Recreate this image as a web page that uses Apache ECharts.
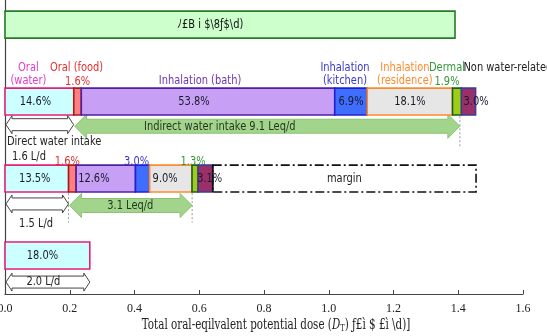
<!DOCTYPE html>
<html>
<head>
<meta charset="utf-8">
<script src="https://cdn.jsdelivr.net/npm/echarts@6/dist/echarts.min.js"></script>
<style>
html,body{margin:0;padding:0;background:#fff;}
#chart{width:547px;height:336px;}
</style>
</head>
<body>
<div id="chart"></div>
<script>
// x axis
var xMin = 0, xMax = 1.6, xStep = 0.2

// doses (Leq/d)
var totalDose = 1.455
var refDose = 1.39
var refText = 'ﾉ£B i $\\8ƒ$\\d)'

// share of total dose per route (%)
var partNames = ['Oral (water)', 'Oral (food)', 'Inhalation (bath)', 'Inhalation (kitchen)', 'Inhalation (residence)', 'Dermal', 'Non water-related']
var pctAll = [14.6, 1.6, 53.8, 6.9, 18.1, 1.9, 3.0]
var pctNow = [13.5, 1.6, 12.6, 3.0, 9.0, 1.3, 3.1]
var pctDirect = [18.0]

// arrows [from, to] in Leq/d
var directAll = [0, 0.212]
var indirectAll = [0.212, 1.405]
var directNow = [0, 0.196]
var indirectNow = [0.196, 0.578]
var directMax = [0, 0.262]
var arrowText = ['Indirect water intake 9.1 Leq/d', '3.1 Leq/d', '2.0 L/d']
var noteText = ['Direct water intake', '1.6 L/d', '1.5 L/d', 'margin']

// ---------- layout / style ----------
var yTop = 3.82
var rowRef = 3.5, rowAll = 2.5, rowNow = 1.5, rowDirect = 0.5
var barH = 0.35
var SX = 0.76   // narrow text like the original

var partFill = ['#ccffff', '#ff7f7f', '#c7a0f5', '#3f6dff', '#e6e6e6', '#9fcc14', '#9b3068']
var partLine = ['#e2207a', '#a81c1c', '#4f1f9e', '#2020d0', '#ff8a2a', '#1e5e1e', '#3c3c9a']
var partText = ['#e03cc6', '#dd3030', '#7036b0', '#3838c8', '#ff8a2a', '#34963a', '#222222']

// labels inside bars: [align, dx px]
var insideAll = [['c', -4], null, ['c', -14], ['c', 0], ['c', 0], null, ['l', 2]]
var insideNow = [['c', -2], null, ['l', 2], null, ['l', 3], null, ['l', -1]]
var insideDirect = [['c', -5]]
// percent labels above bars: dx px
var aboveAll = [null, 0, null, null, null, -10, null]
var aboveNow = [null, -5, null, -6, null, -2, null]
// two-line route names above the "all" row: [line1, line2, dx]
var heads = [['Oral', '(water)', -11], ['Oral (food)', '', -1], ['', 'Inhalation (bath)', -8],
  ['Inhalation', '(kitchen)', -6], ['Inhalation', '(residence)', -5], ['Dermal', '', -10], ['Non water-related', '', 'left']]

function txt(x, y, s, color, align, size, font){
  return {type: 'text', x: x, y: y, scaleX: SX, silent: true,
    style: {text: s, x: 0, y: 0, fill: color, align: align || 'center', verticalAlign: 'middle',
      font: (size || 13) + 'px ' + (font || '"DejaVu Sans"')}}
}

function dArrow(x0, x1, cy, sh, hh, hl, fill, stroke){
  return {type: 'polygon', silent: true, shape: {points: [[x0, cy], [x0 + hl, cy - hh], [x0 + hl, cy - sh], [x1 - hl, cy - sh],
    [x1 - hl, cy - hh], [x1, cy], [x1 - hl, cy + hh], [x1 - hl, cy + sh], [x0 + hl, cy + sh], [x0 + hl, cy + hh]]},
    style: {fill: fill, stroke: stroke, lineWidth: 1}}
}

// build bar segments: [x0, x1, y, part, row]   row 0 all, 1 now, 2 direct, 3 ref
var rowPct = [pctAll, pctNow, pctDirect]
var rowY = [rowAll, rowNow, rowDirect]
var segData = [[0, refDose, rowRef, 0, 3]]
for (var r = 0; r < 3; r++){
  var s = 0
  for (var i = 0; i < rowPct[r].length; i++){
    var w = rowPct[r][i] / 100 * totalDose
    segData.push([s, s + w, rowY[r], i, r])
    s += w
  }
}
var nowEnd = 0
for (var i = 0; i < pctNow.length; i++) nowEnd += pctNow[i] / 100 * totalDose

function renderBar(params, api){
  var x0 = api.value(0), x1 = api.value(1), y = api.value(2), part = api.value(3), row = api.value(4)
  var a = api.coord([x0, y]), b = api.coord([x1, y])
  var h = api.size([0, barH])[1]
  var cx = (a[0] + b[0]) / 2, cy = a[1]
  var kids = []
  if (row === 3){
    kids.push({type: 'rect', shape: {x: a[0], y: cy - h / 2, width: b[0] - a[0], height: h}, style: {fill: '#ccffcc', stroke: '#2a7a2a', lineWidth: 1.6}})
    kids.push(txt(cx - 20, cy, refText, '#111'))
    return {type: 'group', children: kids}
  }
  kids.push({type: 'rect', shape: {x: a[0], y: cy - h / 2, width: b[0] - a[0], height: h},
    style: {fill: partFill[part], stroke: partLine[part], lineWidth: 1.6}})
  var pct = rowPct[row][part].toFixed(1) + '%'
  var ins = [insideAll, insideNow, insideDirect][row][part]
  if (ins){
    if (ins[0] === 'c') kids.push(txt(cx + ins[1], cy, pct, '#1a1a2a'))
    else kids.push(txt(a[0] + ins[1], cy, pct, '#1a1a2a', 'left'))
  }
  var ab = [aboveAll, aboveNow, null][row]
  if (ab && ab[part] !== null){
    kids.push(txt(cx + ab[part], cy - (row === 0 ? 20 : 17), pct, partText[part]))
  }
  if (row === 0){
    var hd = heads[part]
    if (hd[2] === 'left'){
      kids.push(txt(a[0] + 2, cy - 34, hd[0], partText[part], 'left'))
    } else {
      if (hd[0]) kids.push(txt(cx + hd[2], cy - 34, hd[0], partText[part]))
      if (hd[1]) kids.push(txt(cx + hd[2], cy - 21, hd[1], partText[part]))
    }
  }
  return {type: 'group', children: kids}
}

// arrows: [x0, x1, y, kind(0 white / 1 green), textIdx]
var arrowData = [
  [directAll[0], directAll[1], 2.20, 0, -1],
  [indirectAll[0], indirectAll[1], 2.18, 1, 0],
  [directNow[0], directNow[1], 1.17, 0, -1],
  [indirectNow[0], indirectNow[1], 1.15, 1, 1],
  [directMax[0], directMax[1], 0.155, 0, 2]
]
var arrowDx = {0: -47, 1: 0, 2: -4}

function renderArrow(params, api){
  var a = api.coord([api.value(0), api.value(2)]), b = api.coord([api.value(1), api.value(2)])
  var kind = api.value(3), ti = api.value(4)
  var kids = []
  if (kind === 0) kids.push(dArrow(a[0] + 1, b[0], a[1], 6, 9, 6, '#ffffff', '#444'))
  else kids.push(dArrow(a[0] + 1, b[0], a[1], 7, 12, 12, '#a3d48c', '#8cc274'))
  if (ti >= 0) kids.push(txt((a[0] + b[0]) / 2 + arrowDx[ti], a[1], arrowText[ti], kind === 1 ? '#1e361e' : '#222'))
  return {type: 'group', children: kids}
}

// dotted guides: [x, yFrom, yTo]
var guideData = [[indirectAll[1], 2.31, 1.92], [indirectNow[0], 1.31, 0.93], [indirectNow[1], 1.31, 0.93]]
function renderGuide(params, api){
  var a = api.coord([api.value(0), api.value(1)]), b = api.coord([api.value(0), api.value(2)])
  return {type: 'line', silent: true, shape: {x1: a[0], y1: a[1], x2: b[0], y2: b[1]}, style: {stroke: '#999', lineWidth: 1, lineDash: [2, 2]}}
}

// notes: [x, y, textIdx, leftAlign]
var noteData = [[0.006, 1.975, 0, 1], [0.074, 1.78, 1, 0], [0.096, 0.91, 2, 0]]
function renderNote(params, api){
  var p = api.coord([api.value(0), api.value(1)])
  return txt(p[0], p[1], noteText[api.value(2)], '#222', api.value(3) ? 'left' : 'center')
}

function renderMargin(params, api){
  var a = api.coord([api.value(0), api.value(2)]), b = api.coord([api.value(1), api.value(2)])
  var h = api.size([0, barH])[1]
  return {type: 'group', children: [
    {type: 'rect', shape: {x: a[0], y: a[1] - h / 2, width: b[0] - a[0], height: h}, style: {fill: 'none', stroke: '#111', lineWidth: 1.6, lineDash: [9, 3, 2, 3]}},
    {type: 'line', shape: {x1: a[0], y1: a[1] - h / 2, x2: a[0], y2: a[1] + h / 2}, style: {stroke: '#111', lineWidth: 1.6}},
    txt((a[0] + b[0]) / 2, a[1], noteText[3], '#222')
  ]}
}

var option = {
  animation: false,
  grid: {left: 5, right: 24, top: 0, bottom: 42, containLabel: false, outerBoundsMode: 'none'},
  xAxis: {
    type: 'value', min: xMin, max: xMax, interval: xStep,
    axisLine: {lineStyle: {color: '#444', width: 1.2}},
    axisTick: {inside: true, length: 4, lineStyle: {color: '#444'}},
    axisLabel: {color: '#222', fontFamily: 'Liberation Serif', fontSize: 12, margin: 9,
      formatter: function(v){ return v.toFixed(1) }},
    splitLine: {show: false}
  },
  yAxis: {
    type: 'value', min: 0, max: yTop,
    axisLine: {show: true, lineStyle: {color: '#444', width: 1.2}},
    axisTick: {show: false}, axisLabel: {show: false}, splitLine: {show: false}
  },
  graphic: [{
    type: 'text', x: 276, y: 325, scaleX: 0.74, silent: true,
    style: {
      text: '{a|Total oral-eqilvalent potential dose (}{i|D}{s|T}{a|) ƒ£ì $ £ì \\d)]}',
      x: 0, y: 0, align: 'center', verticalAlign: 'middle',
      rich: {
        a: {fontFamily: 'DejaVu Serif', fontSize: 14, fill: '#222'},
        i: {fontFamily: 'DejaVu Serif', fontStyle: 'italic', fontSize: 14, fill: '#222'},
        s: {fontFamily: 'DejaVu Serif', fontSize: 9, fill: '#222', padding: [7, 0, 0, 0]}
      }
    }
  }],
  series: [
    {type: 'custom', name: 'guides', renderItem: renderGuide, data: guideData, encode: {x: 0, y: 1}, silent: true, z: 1},
    {type: 'custom', name: 'arrows', renderItem: renderArrow, data: arrowData, encode: {x: [0, 1], y: 2}, silent: true, z: 2},
    {type: 'custom', name: 'bars', renderItem: renderBar, data: segData, encode: {x: [0, 1], y: 2}, silent: true, z: 3},
    {type: 'custom', name: 'margin', renderItem: renderMargin, data: [[nowEnd, totalDose, rowNow]], encode: {x: [0, 1], y: 2}, silent: true, z: 3},
    {type: 'custom', name: 'notes', renderItem: renderNote, data: noteData, encode: {x: 0, y: 1}, silent: true, z: 4}
  ]
}

var myChart = echarts.init(document.getElementById('chart'))
myChart.setOption(option)
</script>
</body>
</html>
